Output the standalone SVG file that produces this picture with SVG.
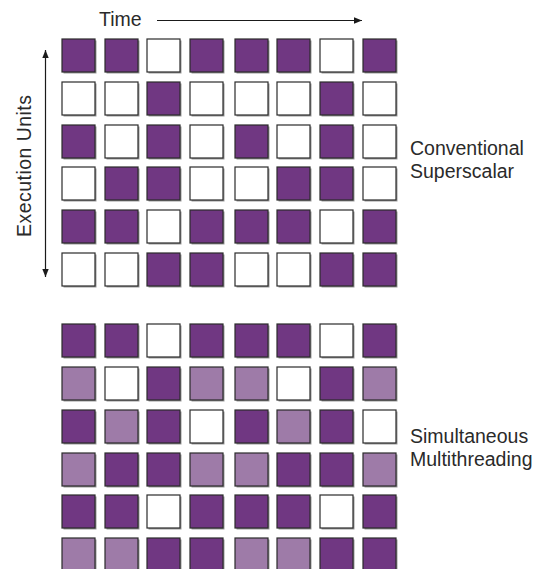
<svg xmlns="http://www.w3.org/2000/svg" width="551" height="569" viewBox="0 0 551 569">
  <defs>
    <marker id="head" viewBox="0 0 10 10" refX="10" refY="5" markerWidth="8" markerHeight="8" markerUnits="userSpaceOnUse" orient="auto-start-reverse">
      <path d="M0,1 L10,5 L0,9 Z" fill="#1a1a1a"/>
    </marker>
  </defs>
  <style>
    .cell { stroke: #2b2b2b; stroke-width: 1.2; }
    .shade { fill: #9a9a9a; }
    .d { fill: #703782; }
    .l { fill: #9e7ba8; }
    .w { fill: #ffffff; }
    .lbl { font-family: "Liberation Sans", Arial, sans-serif; font-size: 19.5px; fill: #2a2a2a; }
    .axis { stroke: #1a1a1a; stroke-width: 1.2; fill: none; }
  </style>
  <rect width="551" height="569" fill="#ffffff"/>

  <!-- axes -->
  <g id="connectors">
    <line class="axis" x1="157" y1="20.5" x2="362" y2="20.5" marker-end="url(#head)"/>
    <line class="axis" x1="45.5" y1="50" x2="45.5" y2="277" marker-start="url(#head)" marker-end="url(#head)"/>
  </g>

  <g id="label-time"><text class="lbl" x="99" y="26">Time</text></g>
  <g id="label-units"><text class="lbl" transform="translate(31,166) rotate(-90)" text-anchor="middle" textLength="142" lengthAdjust="spacing">Execution Units</text></g>
  <g id="label-superscalar">
    <text class="lbl" x="410" y="155">Conventional</text>
    <text class="lbl" x="410" y="178">Superscalar</text>
  </g>
  <g id="label-smt">
    <text class="lbl" x="410" y="443">Simultaneous</text>
    <text class="lbl" x="410" y="466">Multithreading</text>
  </g>

  <!-- Conventional superscalar issue slots: columns x = 62,105,147,190,235,277,320,363 -->
  <g id="grid-superscalar">
    <!-- row 1 -->
    <g transform="translate(0,39)">
      <rect class="shade" x="63.5" y="1.5" width="33" height="33"/><rect class="cell d" x="62" y="0" width="33" height="33"/>
      <rect class="shade" x="106.5" y="1.5" width="33" height="33"/><rect class="cell d" x="105" y="0" width="33" height="33"/>
      <rect class="shade" x="148.5" y="1.5" width="33" height="33"/><rect class="cell w" x="147" y="0" width="33" height="33"/>
      <rect class="shade" x="191.5" y="1.5" width="33" height="33"/><rect class="cell d" x="190" y="0" width="33" height="33"/>
      <rect class="shade" x="236.5" y="1.5" width="33" height="33"/><rect class="cell d" x="235" y="0" width="33" height="33"/>
      <rect class="shade" x="278.5" y="1.5" width="33" height="33"/><rect class="cell d" x="277" y="0" width="33" height="33"/>
      <rect class="shade" x="321.5" y="1.5" width="33" height="33"/><rect class="cell w" x="320" y="0" width="33" height="33"/>
      <rect class="shade" x="364.5" y="1.5" width="33" height="33"/><rect class="cell d" x="363" y="0" width="33" height="33"/>
    </g>
    <!-- row 2 -->
    <g transform="translate(0,82)">
      <rect class="shade" x="63.5" y="1.5" width="33" height="33"/><rect class="cell w" x="62" y="0" width="33" height="33"/>
      <rect class="shade" x="106.5" y="1.5" width="33" height="33"/><rect class="cell w" x="105" y="0" width="33" height="33"/>
      <rect class="shade" x="148.5" y="1.5" width="33" height="33"/><rect class="cell d" x="147" y="0" width="33" height="33"/>
      <rect class="shade" x="191.5" y="1.5" width="33" height="33"/><rect class="cell w" x="190" y="0" width="33" height="33"/>
      <rect class="shade" x="236.5" y="1.5" width="33" height="33"/><rect class="cell w" x="235" y="0" width="33" height="33"/>
      <rect class="shade" x="278.5" y="1.5" width="33" height="33"/><rect class="cell w" x="277" y="0" width="33" height="33"/>
      <rect class="shade" x="321.5" y="1.5" width="33" height="33"/><rect class="cell d" x="320" y="0" width="33" height="33"/>
      <rect class="shade" x="364.5" y="1.5" width="33" height="33"/><rect class="cell w" x="363" y="0" width="33" height="33"/>
    </g>
    <!-- row 3 -->
    <g transform="translate(0,125)">
      <rect class="shade" x="63.5" y="1.5" width="33" height="33"/><rect class="cell d" x="62" y="0" width="33" height="33"/>
      <rect class="shade" x="106.5" y="1.5" width="33" height="33"/><rect class="cell w" x="105" y="0" width="33" height="33"/>
      <rect class="shade" x="148.5" y="1.5" width="33" height="33"/><rect class="cell d" x="147" y="0" width="33" height="33"/>
      <rect class="shade" x="191.5" y="1.5" width="33" height="33"/><rect class="cell w" x="190" y="0" width="33" height="33"/>
      <rect class="shade" x="236.5" y="1.5" width="33" height="33"/><rect class="cell d" x="235" y="0" width="33" height="33"/>
      <rect class="shade" x="278.5" y="1.5" width="33" height="33"/><rect class="cell w" x="277" y="0" width="33" height="33"/>
      <rect class="shade" x="321.5" y="1.5" width="33" height="33"/><rect class="cell d" x="320" y="0" width="33" height="33"/>
      <rect class="shade" x="364.5" y="1.5" width="33" height="33"/><rect class="cell w" x="363" y="0" width="33" height="33"/>
    </g>
    <!-- row 4 -->
    <g transform="translate(0,167)">
      <rect class="shade" x="63.5" y="1.5" width="33" height="33"/><rect class="cell w" x="62" y="0" width="33" height="33"/>
      <rect class="shade" x="106.5" y="1.5" width="33" height="33"/><rect class="cell d" x="105" y="0" width="33" height="33"/>
      <rect class="shade" x="148.5" y="1.5" width="33" height="33"/><rect class="cell d" x="147" y="0" width="33" height="33"/>
      <rect class="shade" x="191.5" y="1.5" width="33" height="33"/><rect class="cell w" x="190" y="0" width="33" height="33"/>
      <rect class="shade" x="236.5" y="1.5" width="33" height="33"/><rect class="cell w" x="235" y="0" width="33" height="33"/>
      <rect class="shade" x="278.5" y="1.5" width="33" height="33"/><rect class="cell d" x="277" y="0" width="33" height="33"/>
      <rect class="shade" x="321.5" y="1.5" width="33" height="33"/><rect class="cell d" x="320" y="0" width="33" height="33"/>
      <rect class="shade" x="364.5" y="1.5" width="33" height="33"/><rect class="cell w" x="363" y="0" width="33" height="33"/>
    </g>
    <!-- row 5 -->
    <g transform="translate(0,210)">
      <rect class="shade" x="63.5" y="1.5" width="33" height="33"/><rect class="cell d" x="62" y="0" width="33" height="33"/>
      <rect class="shade" x="106.5" y="1.5" width="33" height="33"/><rect class="cell d" x="105" y="0" width="33" height="33"/>
      <rect class="shade" x="148.5" y="1.5" width="33" height="33"/><rect class="cell w" x="147" y="0" width="33" height="33"/>
      <rect class="shade" x="191.5" y="1.5" width="33" height="33"/><rect class="cell d" x="190" y="0" width="33" height="33"/>
      <rect class="shade" x="236.5" y="1.5" width="33" height="33"/><rect class="cell d" x="235" y="0" width="33" height="33"/>
      <rect class="shade" x="278.5" y="1.5" width="33" height="33"/><rect class="cell d" x="277" y="0" width="33" height="33"/>
      <rect class="shade" x="321.5" y="1.5" width="33" height="33"/><rect class="cell w" x="320" y="0" width="33" height="33"/>
      <rect class="shade" x="364.5" y="1.5" width="33" height="33"/><rect class="cell d" x="363" y="0" width="33" height="33"/>
    </g>
    <!-- row 6 -->
    <g transform="translate(0,253)">
      <rect class="shade" x="63.5" y="1.5" width="33" height="33"/><rect class="cell w" x="62" y="0" width="33" height="33"/>
      <rect class="shade" x="106.5" y="1.5" width="33" height="33"/><rect class="cell w" x="105" y="0" width="33" height="33"/>
      <rect class="shade" x="148.5" y="1.5" width="33" height="33"/><rect class="cell d" x="147" y="0" width="33" height="33"/>
      <rect class="shade" x="191.5" y="1.5" width="33" height="33"/><rect class="cell d" x="190" y="0" width="33" height="33"/>
      <rect class="shade" x="236.5" y="1.5" width="33" height="33"/><rect class="cell w" x="235" y="0" width="33" height="33"/>
      <rect class="shade" x="278.5" y="1.5" width="33" height="33"/><rect class="cell w" x="277" y="0" width="33" height="33"/>
      <rect class="shade" x="321.5" y="1.5" width="33" height="33"/><rect class="cell d" x="320" y="0" width="33" height="33"/>
      <rect class="shade" x="364.5" y="1.5" width="33" height="33"/><rect class="cell d" x="363" y="0" width="33" height="33"/>
    </g>
  </g>

  <!-- Simultaneous multithreading issue slots -->
  <g id="grid-smt">
    <!-- row 1 -->
    <g transform="translate(0,324)">
      <rect class="shade" x="63.5" y="1.5" width="33" height="33"/><rect class="cell d" x="62" y="0" width="33" height="33"/>
      <rect class="shade" x="106.5" y="1.5" width="33" height="33"/><rect class="cell d" x="105" y="0" width="33" height="33"/>
      <rect class="shade" x="148.5" y="1.5" width="33" height="33"/><rect class="cell w" x="147" y="0" width="33" height="33"/>
      <rect class="shade" x="191.5" y="1.5" width="33" height="33"/><rect class="cell d" x="190" y="0" width="33" height="33"/>
      <rect class="shade" x="236.5" y="1.5" width="33" height="33"/><rect class="cell d" x="235" y="0" width="33" height="33"/>
      <rect class="shade" x="278.5" y="1.5" width="33" height="33"/><rect class="cell d" x="277" y="0" width="33" height="33"/>
      <rect class="shade" x="321.5" y="1.5" width="33" height="33"/><rect class="cell w" x="320" y="0" width="33" height="33"/>
      <rect class="shade" x="364.5" y="1.5" width="33" height="33"/><rect class="cell d" x="363" y="0" width="33" height="33"/>
    </g>
    <!-- row 2 -->
    <g transform="translate(0,367)">
      <rect class="shade" x="63.5" y="1.5" width="33" height="33"/><rect class="cell l" x="62" y="0" width="33" height="33"/>
      <rect class="shade" x="106.5" y="1.5" width="33" height="33"/><rect class="cell w" x="105" y="0" width="33" height="33"/>
      <rect class="shade" x="148.5" y="1.5" width="33" height="33"/><rect class="cell d" x="147" y="0" width="33" height="33"/>
      <rect class="shade" x="191.5" y="1.5" width="33" height="33"/><rect class="cell l" x="190" y="0" width="33" height="33"/>
      <rect class="shade" x="236.5" y="1.5" width="33" height="33"/><rect class="cell l" x="235" y="0" width="33" height="33"/>
      <rect class="shade" x="278.5" y="1.5" width="33" height="33"/><rect class="cell w" x="277" y="0" width="33" height="33"/>
      <rect class="shade" x="321.5" y="1.5" width="33" height="33"/><rect class="cell d" x="320" y="0" width="33" height="33"/>
      <rect class="shade" x="364.5" y="1.5" width="33" height="33"/><rect class="cell l" x="363" y="0" width="33" height="33"/>
    </g>
    <!-- row 3 -->
    <g transform="translate(0,410)">
      <rect class="shade" x="63.5" y="1.5" width="33" height="33"/><rect class="cell d" x="62" y="0" width="33" height="33"/>
      <rect class="shade" x="106.5" y="1.5" width="33" height="33"/><rect class="cell l" x="105" y="0" width="33" height="33"/>
      <rect class="shade" x="148.5" y="1.5" width="33" height="33"/><rect class="cell d" x="147" y="0" width="33" height="33"/>
      <rect class="shade" x="191.5" y="1.5" width="33" height="33"/><rect class="cell w" x="190" y="0" width="33" height="33"/>
      <rect class="shade" x="236.5" y="1.5" width="33" height="33"/><rect class="cell d" x="235" y="0" width="33" height="33"/>
      <rect class="shade" x="278.5" y="1.5" width="33" height="33"/><rect class="cell l" x="277" y="0" width="33" height="33"/>
      <rect class="shade" x="321.5" y="1.5" width="33" height="33"/><rect class="cell d" x="320" y="0" width="33" height="33"/>
      <rect class="shade" x="364.5" y="1.5" width="33" height="33"/><rect class="cell w" x="363" y="0" width="33" height="33"/>
    </g>
    <!-- row 4 -->
    <g transform="translate(0,453)">
      <rect class="shade" x="63.5" y="1.5" width="33" height="33"/><rect class="cell l" x="62" y="0" width="33" height="33"/>
      <rect class="shade" x="106.5" y="1.5" width="33" height="33"/><rect class="cell d" x="105" y="0" width="33" height="33"/>
      <rect class="shade" x="148.5" y="1.5" width="33" height="33"/><rect class="cell d" x="147" y="0" width="33" height="33"/>
      <rect class="shade" x="191.5" y="1.5" width="33" height="33"/><rect class="cell l" x="190" y="0" width="33" height="33"/>
      <rect class="shade" x="236.5" y="1.5" width="33" height="33"/><rect class="cell l" x="235" y="0" width="33" height="33"/>
      <rect class="shade" x="278.5" y="1.5" width="33" height="33"/><rect class="cell d" x="277" y="0" width="33" height="33"/>
      <rect class="shade" x="321.5" y="1.5" width="33" height="33"/><rect class="cell d" x="320" y="0" width="33" height="33"/>
      <rect class="shade" x="364.5" y="1.5" width="33" height="33"/><rect class="cell l" x="363" y="0" width="33" height="33"/>
    </g>
    <!-- row 5 -->
    <g transform="translate(0,495)">
      <rect class="shade" x="63.5" y="1.5" width="33" height="33"/><rect class="cell d" x="62" y="0" width="33" height="33"/>
      <rect class="shade" x="106.5" y="1.5" width="33" height="33"/><rect class="cell d" x="105" y="0" width="33" height="33"/>
      <rect class="shade" x="148.5" y="1.5" width="33" height="33"/><rect class="cell w" x="147" y="0" width="33" height="33"/>
      <rect class="shade" x="191.5" y="1.5" width="33" height="33"/><rect class="cell d" x="190" y="0" width="33" height="33"/>
      <rect class="shade" x="236.5" y="1.5" width="33" height="33"/><rect class="cell d" x="235" y="0" width="33" height="33"/>
      <rect class="shade" x="278.5" y="1.5" width="33" height="33"/><rect class="cell d" x="277" y="0" width="33" height="33"/>
      <rect class="shade" x="321.5" y="1.5" width="33" height="33"/><rect class="cell w" x="320" y="0" width="33" height="33"/>
      <rect class="shade" x="364.5" y="1.5" width="33" height="33"/><rect class="cell d" x="363" y="0" width="33" height="33"/>
    </g>
    <!-- row 6 -->
    <g transform="translate(0,538)">
      <rect class="shade" x="63.5" y="1.5" width="33" height="33"/><rect class="cell l" x="62" y="0" width="33" height="33"/>
      <rect class="shade" x="106.5" y="1.5" width="33" height="33"/><rect class="cell l" x="105" y="0" width="33" height="33"/>
      <rect class="shade" x="148.5" y="1.5" width="33" height="33"/><rect class="cell d" x="147" y="0" width="33" height="33"/>
      <rect class="shade" x="191.5" y="1.5" width="33" height="33"/><rect class="cell d" x="190" y="0" width="33" height="33"/>
      <rect class="shade" x="236.5" y="1.5" width="33" height="33"/><rect class="cell l" x="235" y="0" width="33" height="33"/>
      <rect class="shade" x="278.5" y="1.5" width="33" height="33"/><rect class="cell l" x="277" y="0" width="33" height="33"/>
      <rect class="shade" x="321.5" y="1.5" width="33" height="33"/><rect class="cell d" x="320" y="0" width="33" height="33"/>
      <rect class="shade" x="364.5" y="1.5" width="33" height="33"/><rect class="cell d" x="363" y="0" width="33" height="33"/>
    </g>
  </g>
</svg>
